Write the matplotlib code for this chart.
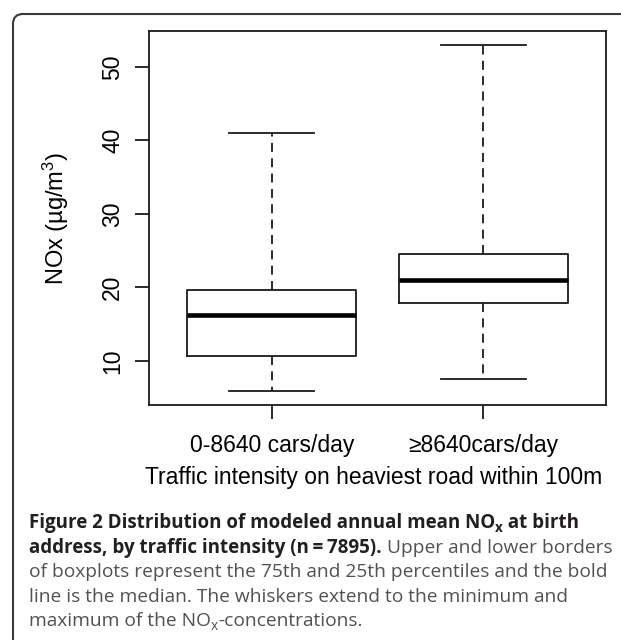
import matplotlib
matplotlib.use('Agg')
import matplotlib.pyplot as plt
from matplotlib.patches import FancyBboxPatch

# ---- data ----
categories = ['0-8640 cars/day', '\u22658640cars/day']
whisker_low = [5.9, 7.5]
q1 = [10.7, 17.9]
median = [16.2, 21.0]
q3 = [19.7, 24.5]
whisker_high = [41.0, 53.0]
yticks = [10, 20, 30, 40, 50]
ylabel = 'NOx (\u00b5g/m$^{3}$)'
xlabel = 'Traffic intensity on heaviest road within 100m'

plt.rcParams['font.family'] = ['Liberation Sans', 'DejaVu Sans']
plt.rcParams['mathtext.fontset'] = 'custom'
plt.rcParams['mathtext.rm'] = 'Liberation Sans'
plt.rcParams['mathtext.it'] = 'Liberation Sans:italic'
plt.rcParams['mathtext.bf'] = 'Liberation Sans:bold'

W, H = 621, 640
fig = plt.figure(figsize=(W / 100, H / 100), dpi=100)
fig.patch.set_facecolor('white')
ax = fig.add_axes([149 / W, 1 - 405 / H, 457 / W, 374 / H])

LC = '#1a1a1a'
LW = 1.3
stats = []
for c, lo, a, m, b, hi in zip(categories, whisker_low, q1, median, q3, whisker_high):
    stats.append(dict(label=c, whislo=lo, q1=a, med=m, q3=b, whishi=hi, fliers=[]))

ax.bxp(stats, positions=[1, 2], widths=0.8, capwidths=0.4, showfliers=False,
       boxprops=dict(color=LC, lw=LW),
       medianprops=dict(color='black', lw=3.3, solid_capstyle='butt'),
       whiskerprops=dict(color=LC, lw=LW, linestyle=(0, (5, 3.5))),
       capprops=dict(color=LC, lw=LW))

ax.set_xlim(0.42, 2.58)
lo, hi = min(whisker_low), max(whisker_high)
r = hi - lo
ax.set_ylim(lo - 0.04 * r, hi + 0.04 * r)

for s in ax.spines.values():
    s.set_linewidth(LW)
    s.set_color(LC)

ax.set_yticks(yticks)
ax.set_yticklabels([str(v) for v in yticks])
ax.tick_params(axis='both', length=10, width=LW, color=LC, labelsize=16.5, labelcolor='black')
ax.tick_params(axis='x', pad=11)
ax.tick_params(axis='y', pad=8, labelrotation=90)
for t in ax.get_yticklabels():
    t.set_verticalalignment('center')

ax.set_ylabel(ylabel, fontsize=17)
ax.yaxis.label.set_verticalalignment('center')
ax.yaxis.set_label_coords((56 - 149) / 457, 0.5)
ax.set_xlabel(xlabel, fontsize=16.5)
ax.xaxis.label.set_verticalalignment('baseline')
ax.xaxis.set_label_coords((374 - 149) / 457, (405 - 484) / 374)

# ---- outer rounded frame ----
frame = FancyBboxPatch((13, -30), 700, 656, boxstyle='round,pad=0,rounding_size=10',
                       transform=None, fill=False, lw=1.5, ec='#3a3a3a')
fig.add_artist(frame)

# ---- caption ----
BOLD_C = '#231f20'
REG_C = '#505153'
CF = ['Open Sans', 'DejaVu Sans']
caption = [
    [("Figure 2 Distribution of modeled annual mean NO", 'bold', False),
     ("x", 'bold', True), (" at birth", 'bold', False)],
    [("address, by traffic intensity (n\u2009=\u20097895).", 'bold', False),
     (" Upper and lower borders", 'normal', False)],
    [("of boxplots represent the 75th and 25th percentiles and the bold", 'normal', False)],
    [("line is the median. The whiskers extend to the minimum and", 'normal', False)],
    [("maximum of the NO", 'normal', False), ("x", 'normal', True),
     ("-concentrations.", 'normal', False)],
]
baselines = [528, 553, 577, 602, 626]
x0 = 29

fig.canvas.draw()
rend = fig.canvas.get_renderer()


def width_of(s, wt, size):
    p = fig.text(0, 0, s, family=CF, fontsize=size, fontweight=wt)
    w = p.get_window_extent(renderer=rend).width
    p.remove()
    return w


fs_reg = 12 * (603 - x0) / width_of(caption[2][0][0], 'normal', 12)
line1_w = (width_of(caption[0][0][0], 'bold', 12) + width_of('x', 'bold', 12 * 0.72)
           + width_of(caption[0][2][0], 'bold', 12))
fs_bold = 12 * (578 - x0) / line1_w

for line, yb in zip(caption, baselines):
    x = x0
    for txt, wt, sub in line:
        base = fs_bold if wt == 'bold' else fs_reg
        size = base * 0.72 if sub else base
        dy = -base * 0.22 * 100 / 72 if sub else 0
        col = BOLD_C if wt == 'bold' else REG_C
        t = fig.text(x / W, 1 - (yb - dy) / H, txt, family=CF, fontsize=size,
                     fontweight=wt, color=col, ha='left', va='baseline')
        x += t.get_window_extent(renderer=rend).width

fig.savefig('out.png', dpi=100, facecolor='white')
